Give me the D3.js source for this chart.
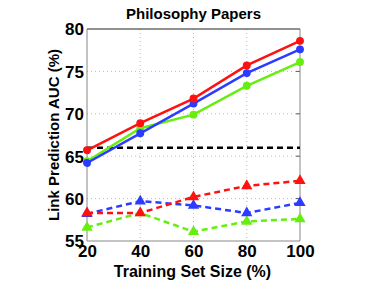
<!DOCTYPE html>
<html>
<head>
<meta charset="utf-8">
<script src="https://cdn.jsdelivr.net/npm/d3@7"></script>
<style>
  body { margin: 0; background: #fff; }
  svg { display: block; font-family: "Liberation Sans", Arial, sans-serif; }
</style>
</head>
<body>
<div id="chart"></div>
<script>
var sizes = [20, 40, 60, 80, 100];
var solidRed = [65.7, 68.9, 71.8, 75.7, 78.6];
var solidBlue = [64.2, 67.7, 71.2, 74.8, 77.6];
var solidGreen = [64.4, 68.3, 69.9, 73.3, 76.1];
var dashRed = [58.3, 58.3, 60.2, 61.5, 62.1];
var dashBlue = [58.2, 59.7, 59.2, 58.3, 59.5];
var dashGreen = [56.6, 58.3, 56.1, 57.3, 57.6];
var baseline = 66.0;
var yTicks = [55, 60, 65, 70, 75, 80];

var W = 374, H = 281;
var margin = {top: 29, right: 74, bottom: 40, left: 87};
var width = 300 - margin.left;
var height = 241 - margin.top;

var svg = d3.select("#chart").append("svg")
    .attr("width", W).attr("height", H);
var g = svg.append("g")
    .attr("transform", "translate(" + margin.left + "," + margin.top + ")");

var x = d3.scaleLinear().domain([20, 100]).range([0, width]);
var y = d3.scaleLinear().domain([55, 80]).range([height, 0]);

// dotted grid
g.append("g").selectAll("line.gx")
    .data(sizes.slice(1, -1)).enter().append("line")
    .attr("x1", function(d) { return x(d); }).attr("x2", function(d) { return x(d); })
    .attr("y1", 0).attr("y2", height)
    .attr("stroke", "#bbb").attr("stroke-width", 1).attr("stroke-dasharray", "1,3");
g.append("g").selectAll("line.gy")
    .data(yTicks.slice(1, -1)).enter().append("line")
    .attr("y1", function(d) { return y(d); }).attr("y2", function(d) { return y(d); })
    .attr("x1", 0).attr("x2", width)
    .attr("stroke", "#bbb").attr("stroke-width", 1).attr("stroke-dasharray", "1,3");

// axes
var yAxis = g.append("g")
    .call(d3.axisLeft(y).tickValues(yTicks).tickSize(0).tickPadding(3));
var xAxis = g.append("g")
    .attr("transform", "translate(0," + height + ")")
    .call(d3.axisBottom(x).tickValues(sizes).tickSize(0).tickPadding(4));
[yAxis, xAxis].forEach(function(a) {
    a.select(".domain").remove();
    a.selectAll("text").style("font-size", "17px").style("font-weight", "bold").attr("fill", "#000");
});
yAxis.selectAll("text").attr("dy", "0.35em");

// inward ticks on right
g.append("g").selectAll("line")
    .data(yTicks.slice(1, -1)).enter().append("line")
    .attr("x1", width - 4).attr("x2", width)
    .attr("y1", function(d) { return y(d); }).attr("y2", function(d) { return y(d); })
    .attr("stroke", "#555");

// frame
g.append("line").attr("x1", 0).attr("x2", width).attr("y1", 0).attr("y2", 0).attr("stroke", "#222");
g.append("line").attr("x1", 0).attr("x2", 0).attr("y1", 0).attr("y2", height).attr("stroke", "#888");
g.append("line").attr("x1", 0).attr("x2", width).attr("y1", height).attr("y2", height).attr("stroke", "#888");
g.append("line").attr("x1", width).attr("x2", width).attr("y1", 0).attr("y2", height).attr("stroke", "#888");

var lineGen = d3.line()
    .x(function(d) { return x(d.x); })
    .y(function(d) { return y(d.y); });

function pack(vals) {
    return sizes.map(function(s, i) { return {x: s, y: vals[i]}; });
}

// baseline
g.append("path")
    .datum(pack(sizes.map(function() { return baseline; })))
    .attr("d", lineGen)
    .attr("fill", "none").attr("stroke", "#000")
    .attr("stroke-width", 2.5).attr("stroke-dasharray", "6,4");

var dashed = [
    {vals: dashGreen, color: "#66ee11"},
    {vals: dashBlue, color: "#2b3bff"},
    {vals: dashRed, color: "#ff1111"}
];
var solid = [
    {vals: solidGreen, color: "#66ee11"},
    {vals: solidBlue, color: "#2b3bff"},
    {vals: solidRed, color: "#ff1111"}
];

var tri = d3.symbol().type(d3.symbolTriangle).size(55);

dashed.forEach(function(s) {
    var pts = pack(s.vals);
    g.append("path").datum(pts).attr("d", lineGen)
        .attr("fill", "none").attr("stroke", s.color)
        .attr("stroke-width", 2.5).attr("stroke-dasharray", "6,4");
    g.selectAll(null).data(pts).enter().append("path")
        .attr("d", tri)
        .attr("transform", function(d) { return "translate(" + x(d.x) + "," + y(d.y) + ")"; })
        .attr("fill", s.color);
});

solid.forEach(function(s) {
    var pts = pack(s.vals);
    g.append("path").datum(pts).attr("d", lineGen)
        .attr("fill", "none").attr("stroke", s.color)
        .attr("stroke-width", 2.5);
    g.selectAll(null).data(pts).enter().append("circle")
        .attr("cx", function(d) { return x(d.x); })
        .attr("cy", function(d) { return y(d.y); })
        .attr("r", 3.2)
        .attr("fill", s.color).attr("stroke", s.color).attr("stroke-width", 1.5);
});

// title and labels
svg.append("text")
    .attr("x", margin.left + width / 2).attr("y", 19)
    .attr("text-anchor", "middle")
    .style("font-size", "15px").style("font-weight", "bold")
    .text("Philosophy Papers");

svg.append("text")
    .attr("transform", "rotate(-90)")
    .attr("x", -(margin.top + height / 2)).attr("y", 59)
    .attr("text-anchor", "middle")
    .style("font-size", "15px").style("font-weight", "bold")
    .text("Link Prediction AUC (%)");

svg.append("text")
    .attr("x", margin.left + width / 2 - 1).attr("y", 277)
    .attr("text-anchor", "middle")
    .style("font-size", "16px").style("font-weight", "bold")
    .text("Training Set Size (%)");
</script>
</body>
</html>
